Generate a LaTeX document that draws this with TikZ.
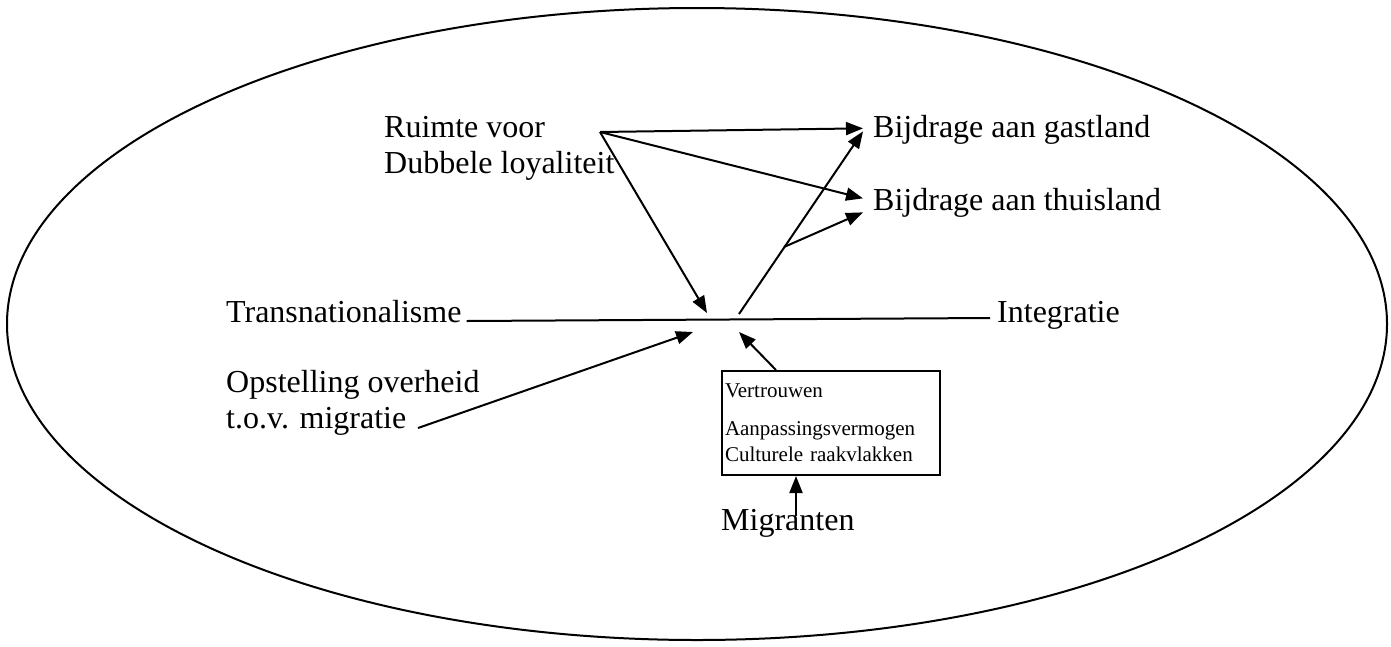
\documentclass[tikz,border=0pt]{standalone}
\usepackage{fontspec}
\setmainfont{Liberation Serif}
\usetikzlibrary{calc,arrows.meta}

\begin{document}
\begin{tikzpicture}[
  x=1pt, y=-1pt,
  term/.style={inner sep=0pt, anchor=base west, align=left, font=\fontsize{32}{36}\selectfont},
  factors/.style={draw, line width=2pt, anchor=north west, text width=212pt, minimum height=104pt,
    inner xsep=3pt, align=left, font=\fontsize{21}{26}\selectfont},
  link/.style={line width=2pt},
  arr/.style={link, -{Triangle[length=17pt,width=13pt]}}
]
\useasboundingbox (0,0) rectangle (1391,646);
\draw[link] (697,324) ellipse [x radius=690, y radius=316];

% labels (two-line ones sit on their last baseline)
\node[term] (ruimte) at (384,173) {Ruimte voor\\Dubbele loyaliteit};
\node[term] (gast) at (873,137) {Bijdrage aan gastland};
\node[term] (thuis) at (873,210) {Bijdrage aan thuisland};
\node[term] (trans) at (226,322) {Transnationalisme};
\node[term] (integ) at (997,322) {Integratie};
\node[term] (opst) at (226,428) {Opstelling overheid\\t.o.v. migratie};
\node[factors] (box) at (721,370) {Vertrouwen\\[12pt]Aanpassingsvermogen\\Culturele raakvlakken};
\node[term] (migr) at (721,530) {Migranten};

% free ends round the middle of the axis
\coordinate (rv) at (600,132);
\coordinate (down) at (707,313);
\coordinate (up) at (739,314);
\coordinate (br) at (784,247);
\coordinate (opsttip) at (693,332);
\coordinate (boxtip) at (739,332);
\coordinate (ovstart) at (418,428);
\coordinate (mg) at (796,516);

\draw[link] (trans.base east) ++(5,-1) -- ($(integ.base west)+(-7,-4)$);
\draw[arr] (rv) -- ($(gast.west)+(-10,-1)$);
\draw[arr] (rv) -- ($(thuis.west)+(-10,-4)$);
\draw[arr] (rv) -- (down);
\draw[arr] (up) -- ($(gast.west)+(-10,2)$);
\draw[arr] (br) -- ($(thuis.west)+(-10,10)$);
\draw[arr] (ovstart) -- (opsttip);
\draw[arr] ($(box.north west)+(55,0)$) -- (boxtip);
\draw[arr] (mg) -- (mg |- box.south);
\end{tikzpicture}
\end{document}
